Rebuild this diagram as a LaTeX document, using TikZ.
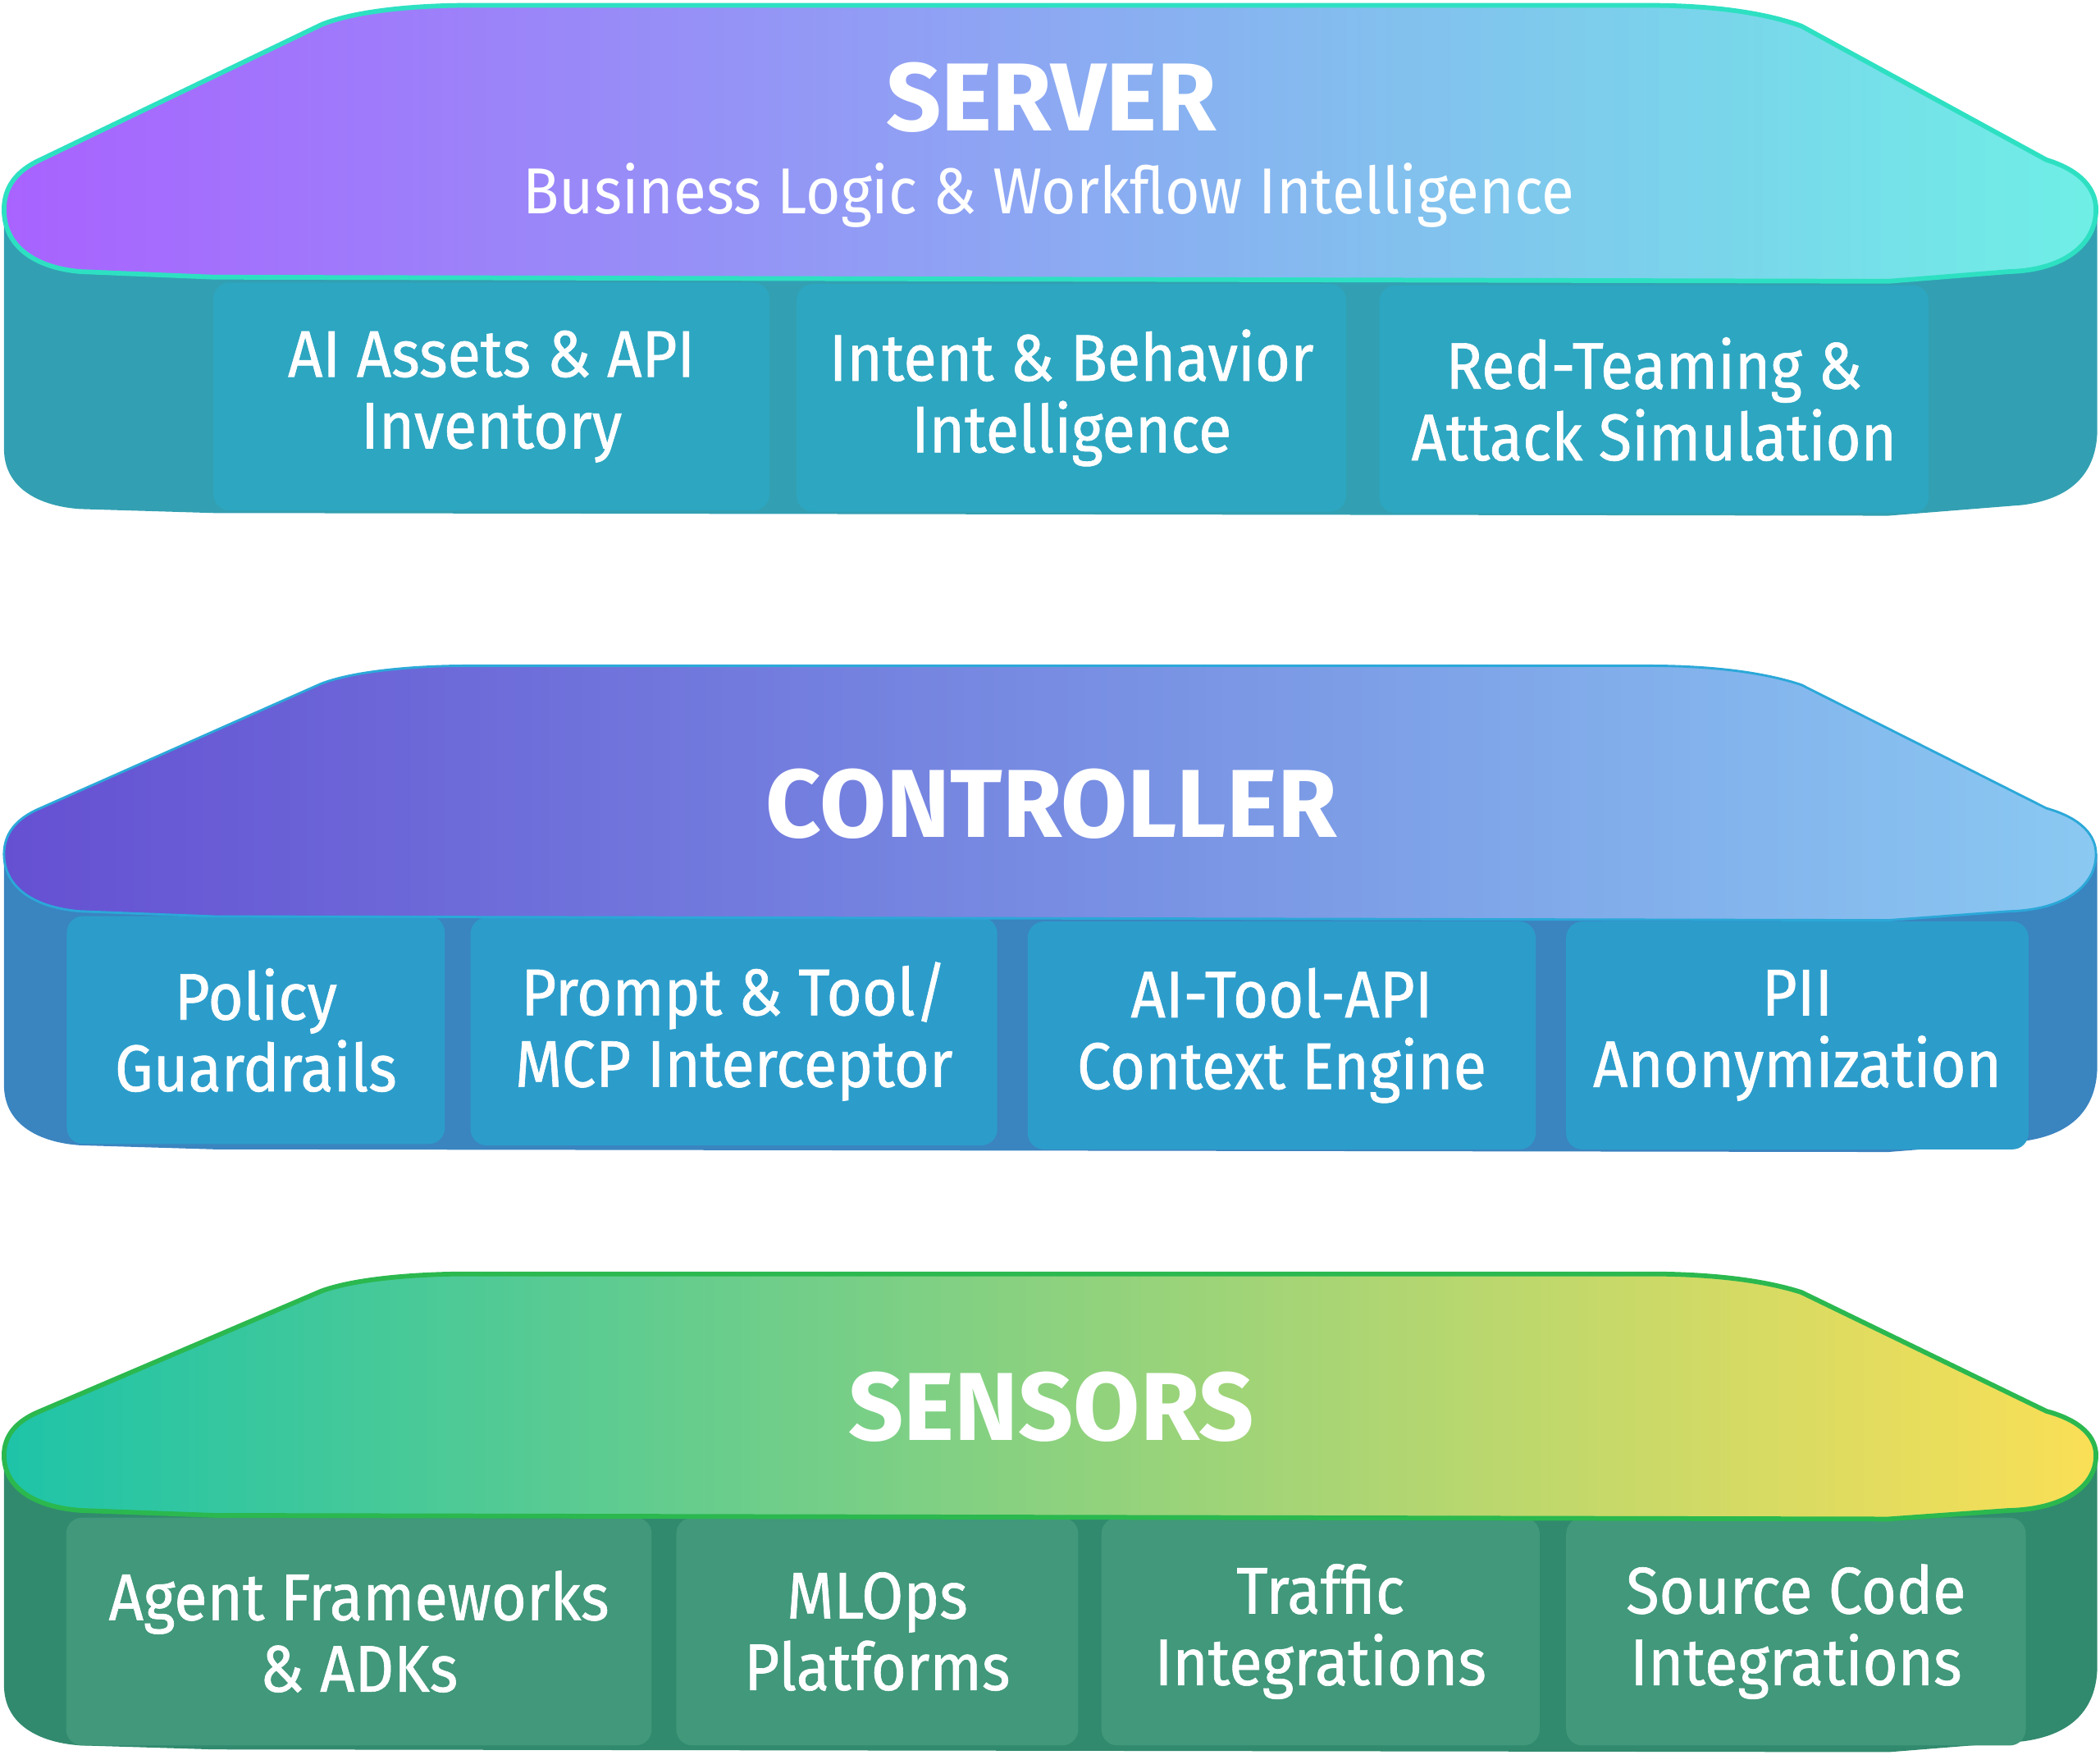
\documentclass[tikz,border=0pt]{standalone}
\usepackage{fontspec}
\setmainfont{Fira Sans}[FakeStretch=0.92]
\newfontfamily\titlefont{Fira Sans}
\newfontfamily\partfont{Fira Sans}[FakeStretch=0.92, FakeBold=0.8]
\usetikzlibrary{positioning}

% server colours
\definecolor{srvleft}{HTML}{A962FF}
\definecolor{srvmid}{HTML}{94A2F4}
\definecolor{srvright}{HTML}{6FEFE6}
\definecolor{srvline}{HTML}{2EE0C2}
\definecolor{srvbody}{HTML}{32A0B2}
\definecolor{srvbox}{HTML}{2DA6C1}
% controller colours
\definecolor{ctlleft}{HTML}{6550D2}
\definecolor{ctlmid}{HTML}{7A8DE2}
\definecolor{ctlright}{HTML}{8AC9F2}
\definecolor{ctlline}{HTML}{2BA8D8}
\definecolor{ctlbody}{HTML}{3A84C0}
\definecolor{ctlbox}{HTML}{2C9DCB}
% sensor colours
\definecolor{senleft}{HTML}{1EC4A8}
\definecolor{senmid}{HTML}{8CD087}
\definecolor{senright}{HTML}{FADF56}
\definecolor{senline}{HTML}{2BB84F}
\definecolor{senbody}{HTML}{318A6E}
\definecolor{senbox}{HTML}{41987A}

% top face of a layer: #1 = top y, #2 = face height, #3 = options
\newcommand{\layerface}[3]{%
  \shade[#3] (350,#1) -- (1230,#1)
  .. controls (1290,#1) and (1325,{#1+0.04*#2}) .. (1345,{#1+0.075*#2})
  -- (1528,{#1+0.56*#2})
  .. controls (1555,{#1+0.6*#2}) and (1565,{#1+0.67*#2}) .. (1565,{#1+0.74*#2})
  .. controls (1565,{#1+0.87*#2}) and (1540,{#1+0.96*#2}) .. (1500,{#1+0.965*#2})
  -- (1410,{#1+#2}) -- (160,{#1+0.985*#2}) -- (60,{#1+0.965*#2})
  .. controls (25,{#1+0.95*#2}) and (3,{#1+0.87*#2}) .. (3,{#1+0.74*#2})
  .. controls (3,{#1+0.66*#2}) and (12,{#1+0.6*#2}) .. (30,{#1+0.56*#2})
  -- (240,{#1+0.07*#2})
  .. controls (265,{#1+0.02*#2}) and (310,#1) .. (350,#1) -- cycle;}
% side of a layer: #1 = top y, #2 = face height, #3 = bottom y, #4 = colour
\newcommand{\layerbody}[4]{%
  \fill[#4] (3,{#1+0.74*#2}) -- (3,{#3-45})
  .. controls (3,{#3-15}) and (30,{#3-2}) .. (60,#3)
  -- (160,{#3+3}) -- (1410,{#3+5}) -- (1510,{#3-3})
  .. controls (1550,{#3-8}) and (1566,{#3-30}) .. (1566,{#3-60})
  -- (1566,{#1+0.74*#2}) -- cycle;}

\begin{document}
\begin{tikzpicture}[x=0.01cm, y=-0.01cm,
    title/.style={text=white, font=\titlefont\fontsize{20.5}{24}\bfseries\selectfont},
    subtitle/.style={text=white, font=\fontsize{13.8}{16}\selectfont},
    part/.style={rounded corners=0.12cm, minimum height=1.7cm, align=center,
      text=white, inner sep=0pt, font=\partfont\fontsize{14}{15.2}\selectfont}]
    \useasboundingbox (0,0) rectangle (1568,1310);
    % server layer
    \layerbody{4}{206}{380}{srvbody}
    \node[part, fill=srvbox, minimum width=4.15cm] (assets) at (367,296)
    {AI Assets \& API\\Inventory};
    \node[part, fill=srvbox, minimum width=4.10cm] (intent) at (800,297)
    {Intent \& Behavior\\Intelligence};
    \node[part, fill=srvbox, minimum width=4.10cm] (redteam) at (1235,298)
    {Red-Teaming \&\\Attack Simulation};
    \layerface{4}{206}{left color=srvleft, middle color=srvmid,
      right color=srvright, draw=srvline, line width=1pt}
    \node[title] (server) at (785,73) {SERVER};
    \node[subtitle] (logic) at (783,146) {Business Logic \& Workflow Intelligence};
    % controller layer
    \layerbody{497}{190}{855}{ctlbody}
    \node[part, fill=ctlbox, minimum width=2.82cm] (policy) at (191,769)
    {Policy\\Guardrails};
    \node[part, fill=ctlbox, minimum width=3.93cm] (prompt) at (548,770)
    {Prompt \& Tool/\\MCP Interceptor};
    \node[part, fill=ctlbox, minimum width=3.79cm] (context) at (957,773)
    {AI-Tool-API\\Context Engine};
    \node[part, fill=ctlbox, minimum width=3.45cm] (pii) at (1342,773)
    {PII\\Anonymization};
    \layerface{497}{190}{left color=ctlleft, middle color=ctlmid,
      right color=ctlright, draw=ctlline, line width=0.5pt}
    \node[title] (controller) at (785,600) {CONTROLLER};
    % sensors layer
    \layerbody{951}{183}{1303}{senbody}
    \node[part, fill=senbox, minimum width=4.37cm] (agent) at (268,1218)
    {Agent Frameworks\\\& ADKs};
    \node[part, fill=senbox, minimum width=3.00cm] (mlops) at (655,1218)
    {MLOps\\Platforms};
    \node[part, fill=senbox, minimum width=3.27cm] (traffic) at (986,1218)
    {Traffic\\Integrations};
    \node[part, fill=senbox, minimum width=3.43cm] (source) at (1341,1218)
    {Source Code\\Integrations};
    \layerface{951}{183}{left color=senleft, middle color=senmid,
      right color=senright, draw=senline, line width=1pt}
    \node[title] (sensors) at (785,1050) {SENSORS};
\end{tikzpicture}
\end{document}
